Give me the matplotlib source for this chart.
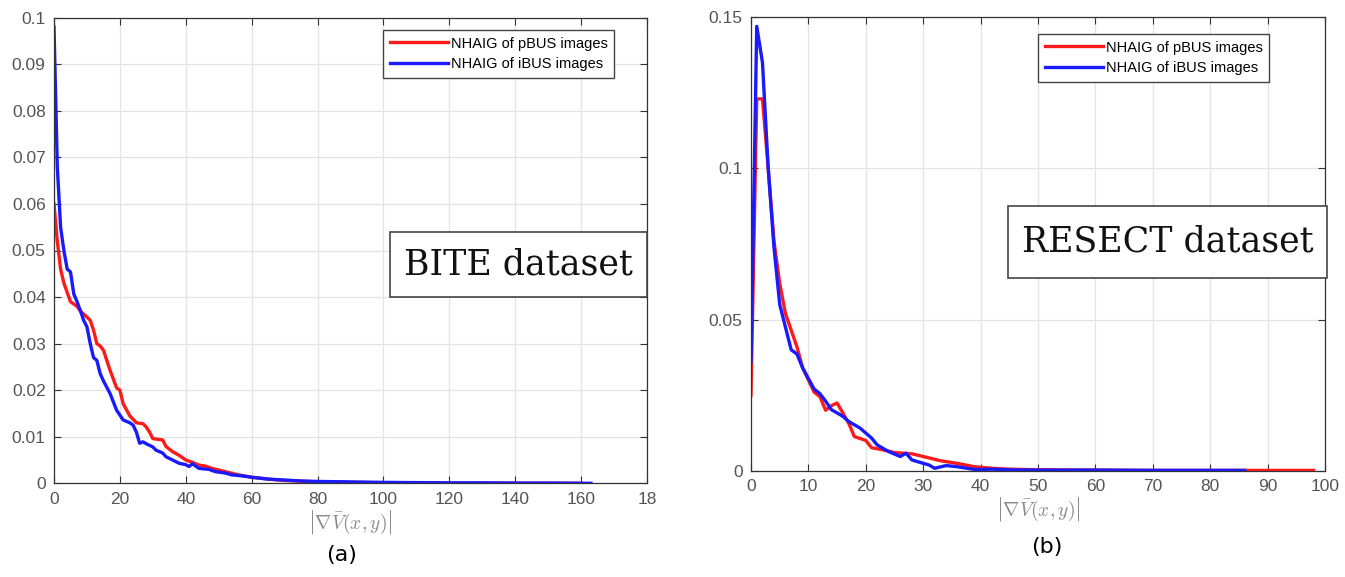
import matplotlib.pyplot as plt
import matplotlib.patches as patches
import numpy as np

plt.rcParams['mathtext.fontset'] = 'cm'

# (a) BITE dataset
bite_p_x = [0, 1, 2, 3, 5, 7, 8, 10, 11, 12, 13, 14, 15, 17, 19, 20, 21, 23, 25, 27,
            28, 29, 30, 32, 33, 34, 36, 38, 40, 42, 44, 46, 48, 52, 56, 60, 65, 70, 80, 90,
            100, 120, 140, 160]
bite_p_y = [0.060, 0.052, 0.046, 0.043, 0.039, 0.038, 0.037, 0.0357, 0.035, 0.0329,
            0.030, 0.0295, 0.0286, 0.0243, 0.0205, 0.020, 0.0171, 0.0145, 0.013, 0.0128,
            0.0121, 0.011, 0.0096, 0.0094, 0.0093, 0.0079, 0.0068, 0.006, 0.005, 0.0045,
            0.0039, 0.0037, 0.0032, 0.0025, 0.0018, 0.0013, 0.0009, 0.0006, 0.0003, 0.0002,
            0.0001, 0.00005, 0.00002, 0.0]
bite_i_x = [0, 1, 2, 3, 4, 5, 6, 7, 8, 9, 10, 11, 12, 13, 14, 15, 17, 19, 21, 23,
            24, 25, 26, 27, 28, 30, 31, 33, 34, 36, 38, 40, 41, 42, 44, 47, 49, 52, 54, 57,
            60, 65, 70, 75, 80, 90, 100, 110, 120, 130, 140, 150, 163]
bite_i_y = [0.098, 0.068, 0.055, 0.050, 0.046, 0.0454, 0.0407, 0.039, 0.0371, 0.035,
            0.0336, 0.030, 0.027, 0.0264, 0.0236, 0.022, 0.0193, 0.0157, 0.0136, 0.013,
            0.0125, 0.011, 0.0086, 0.0089, 0.0085, 0.0078, 0.0071, 0.0065, 0.0057, 0.005,
            0.0043, 0.0040, 0.0036, 0.0042, 0.0032, 0.0030, 0.0025, 0.0022, 0.0018, 0.0016,
            0.0013, 0.0009, 0.0007, 0.0005, 0.0004, 0.0003, 0.0002, 0.00015, 0.0001, 0.0001,
            0.00005, 0.00005, 0.0]

# (b) RESECT dataset
resect_p_x = [0, 1, 2, 3, 4, 5, 6, 8, 9, 11, 12, 13, 14, 15, 17, 18, 20, 21, 23, 25,
              28, 30, 33, 36, 39, 42, 45, 50, 60, 70, 80, 90, 98]
resect_p_y = [0.025, 0.123, 0.123, 0.100, 0.076, 0.062, 0.052, 0.041, 0.034, 0.026,
              0.0245, 0.020, 0.0215, 0.0224, 0.0158, 0.0113, 0.0100, 0.0076, 0.0069, 0.0060,
              0.0056, 0.0047, 0.0033, 0.0024, 0.0013, 0.0008, 0.0005, 0.0003, 0.0002, 0.0001,
              0.0001, 0.0001, 0.0001]
resect_i_x = [0, 1, 2, 3, 4, 5, 7, 8, 9, 11, 12, 13, 14, 16, 17, 19, 21, 22, 24, 26,
              27, 28, 29, 31, 32, 34, 36, 39, 42, 45, 50, 60, 70, 80, 86]
resect_i_y = [0.036, 0.147, 0.135, 0.100, 0.074, 0.055, 0.040, 0.0386, 0.034, 0.027,
              0.0255, 0.023, 0.0202, 0.018, 0.0163, 0.0141, 0.0108, 0.0085, 0.0063, 0.0047,
              0.0058, 0.0036, 0.0030, 0.0019, 0.0008, 0.0017, 0.0013, 0.0004, 0.0005, 0.0003,
              0.0002, 0.0002, 0.0001, 0.0001, 0.0001]

labels = ['NHAIG of pBUS images', 'NHAIG of iBUS images']

W, H = 1345, 577
tick_col = '#555555'


def style_axes(ax, xticks, xlabels, yticks, ylabels, xmax, ymax):
    ax.set_xlim(0, xmax)
    ax.set_ylim(0, ymax)
    ax.set_xticks(xticks)
    ax.set_xticklabels(xlabels)
    ax.set_yticks(yticks)
    ax.set_yticklabels(ylabels)
    ax.grid(True, color='#e3e3e3', lw=0.9)
    ax.set_axisbelow(True)
    ax.tick_params(direction='in', top=True, right=True, length=5, width=0.8,
                   labelsize=12.5, labelcolor=tick_col, color='#333333', pad=6)
    for s in ax.spines.values():
        s.set_color('#333333')
        s.set_linewidth(0.9)
    for t in ax.get_xticklabels() + ax.get_yticklabels():
        t.set_fontfamily('Liberation Sans')
    ax.set_xlabel(r'$\left|\nabla\bar{V}(x,y)\right|$', fontsize=14, color='#8a8a8a', labelpad=1)


def make_legend(ax, x, y):
    leg = ax.legend(loc='upper left', bbox_to_anchor=(x, y), borderaxespad=0,
                    fancybox=False, framealpha=1, edgecolor='#444444',
                    prop={'family': 'Liberation Sans', 'size': 10.5}, handlelength=4.0,
                    handletextpad=0.2, labelspacing=0.45, borderpad=0.45)
    leg.get_frame().set_linewidth(1.0)


def fig_box(fig, x0, y0, x1, y1, text, size):
    rect = patches.Rectangle((x0 / W, 1 - y1 / H), (x1 - x0) / W, (y1 - y0) / H,
                             transform=fig.transFigure, fill=True, facecolor='white',
                             edgecolor='#444444', lw=1.2, zorder=5)
    fig.add_artist(rect)
    fig.text((x0 + x1) / 2 / W, 1 - (y0 + y1) / 2 / H, text, ha='center', va='center',
             fontsize=size, family='DejaVu Serif', color='#111111', zorder=6)


fig = plt.figure(figsize=(W / 100, H / 100), dpi=100)

# left panel
ax1 = fig.add_axes([54 / W, 1 - 483.3 / H, 593 / W, 465.6 / H])
ax1.plot(bite_p_x, bite_p_y, color='#ff1a1a', lw=2.4, label=labels[0])
ax1.plot(bite_i_x, bite_i_y, color='#1a1aff', lw=2.4, label=labels[1])
yt = np.arange(0, 0.101, 0.01)
style_axes(ax1, np.arange(0, 181, 20), ['0', '20', '40', '60', '80', '100', '120', '140', '160', '18'],
           yt, ['0'] + ['%.2f' % v for v in yt[1:-1]] + ['0.1'], 180, 0.1)
make_legend(ax1, (383 - 54) / 593, (483.3 - 30) / 465.6)

# right panel
ax2 = fig.add_axes([751 / W, 1 - 470.7 / H, 574 / W, 453.4 / H])
ax2.plot(resect_p_x, resect_p_y, color='#ff1a1a', lw=2.4, label=labels[0])
ax2.plot(resect_i_x, resect_i_y, color='#1a1aff', lw=2.4, label=labels[1])
style_axes(ax2, np.arange(0, 101, 10), [str(v) for v in range(0, 101, 10)],
           [0, 0.05, 0.1, 0.15], ['0', '0.05', '0.1', '0.15'], 100, 0.15)
make_legend(ax2, (1038 - 751) / 574, (470.7 - 34) / 453.4)

# dataset boxes
fig_box(fig, 390, 232, 647, 297, 'BITE dataset', 25)
fig_box(fig, 1008, 206, 1327, 278, 'RESECT dataset', 25)

# panel letters
fig.text(342 / W, 1 - 555 / H, '(a)', ha='center', va='center', fontsize=16)
fig.text(1047 / W, 1 - 547 / H, '(b)', ha='center', va='center', fontsize=16)

fig.savefig('out.png', dpi=100)
